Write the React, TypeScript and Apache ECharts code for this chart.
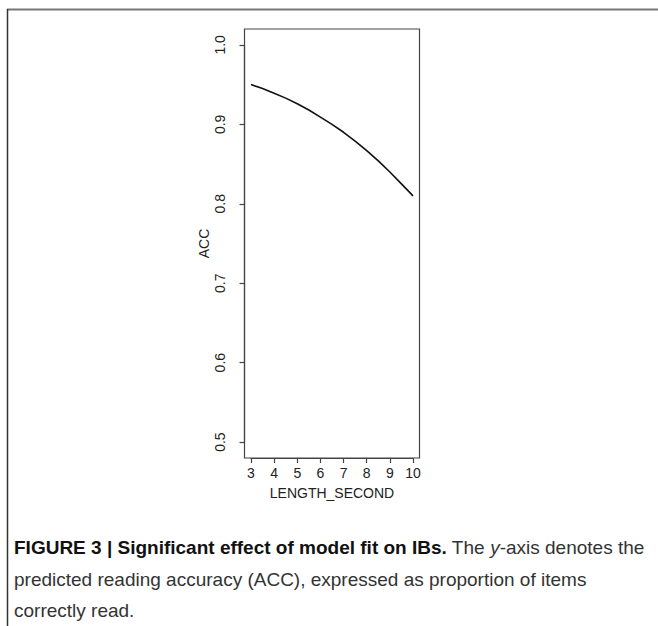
import React, { useEffect, useRef } from "react";
import * as echarts from "echarts";

const lengthSecond = [3, 3.5, 4, 4.5, 5, 5.5, 6, 6.5, 7, 7.5, 8, 8.5, 9, 9.5, 10];
const accValues = [0.95, 0.945, 0.939, 0.933, 0.926, 0.918, 0.909, 0.9, 0.89, 0.879, 0.867, 0.854, 0.84, 0.825, 0.81];
const xTickMin = 3;
const xTickMax = 10;
const xTickStep = 1;
const yTickMin = 0.5;
const yTickMax = 1.0;
const yTickStep = 0.1;
const xLabel = "LENGTH_SECOND";
const yLabel = "ACC";
const captionBold = "FIGURE 3 | Significant effect of model fit on IBs.";
const captionLine1Rest = " The ";
const captionItalic = "y";
const captionLine1End = "-axis denotes the";
const captionLine2 = "predicted reading accuracy (ACC), expressed as proportion of items";
const captionLine3 = "correctly read.";

export default function App() {
  const ref = useRef<HTMLDivElement>(null);
  useEffect(() => {
    if (!ref.current) return;
    const chart = echarts.init(ref.current, undefined, { renderer: "svg" });
    const axisFont = "Liberation Sans, Arial, sans-serif";
    const capFont = "'Liberation Sans', Arial, sans-serif";
    const axisColor = "#444";
    // plot box (R's plot region, 4% padding around tick range)
    const boxL = 244.5, boxR = 419.5, boxT = 29, boxB = 458;
    const W = 658, H = 626;
    const pxPerX = (boxR - boxL) / ((xTickMax - xTickMin) * 1.08);
    const pxPerY = (boxB - boxT) / ((yTickMax - yTickMin) * 1.08);
    const padX = (xTickMax - xTickMin) * 0.04 * pxPerX;
    const padY = (yTickMax - yTickMin) * 0.04 * pxPerY;
    chart.setOption({
      animation: false,
      backgroundColor: "#fff",
      grid: [
        {
          left: boxL,
          right: W - boxR,
          top: boxT,
          bottom: H - boxB,
          show: true,
          borderColor: axisColor,
          borderWidth: 1.2,
          containLabel: false,
        },
        {
          left: boxL + padX,
          right: W - boxR + padX,
          top: boxT + padY,
          bottom: H - boxB + padY,
          show: false,
          containLabel: false,
        },
      ],
      xAxis: [
        {
          gridIndex: 1,
          type: "value",
          min: xTickMin,
          max: xTickMax,
          interval: xTickStep,
          offset: padY,
          name: xLabel,
          nameLocation: "middle",
          nameGap: 28,
          nameTextStyle: { color: "#222", fontSize: 14, fontFamily: axisFont },
          axisLine: { show: true, lineStyle: { color: axisColor, width: 1.2 } },
          splitLine: { show: false },
          axisTick: { show: true, length: 5, lineStyle: { color: axisColor, width: 1.2 } },
          axisLabel: {
            color: "#222",
            fontSize: 14,
            fontFamily: axisFont,
            margin: 8,
            formatter: (v: number) => String(v),
          },
        },
      ],
      yAxis: [
        {
          gridIndex: 1,
          type: "value",
          min: yTickMin,
          max: yTickMax,
          interval: yTickStep,
          offset: padX,
          name: yLabel,
          nameLocation: "middle",
          nameGap: 34,
          nameRotate: 90,
          nameTextStyle: { color: "#222", fontSize: 14, fontFamily: axisFont },
          axisLine: { show: true, lineStyle: { color: axisColor, width: 1.2 } },
          splitLine: { show: false },
          axisTick: { show: true, length: 5, lineStyle: { color: axisColor, width: 1.2 } },
          axisLabel: {
            color: "#222",
            fontSize: 14,
            fontFamily: axisFont,
            rotate: 90,
            margin: 18,
            formatter: (v: number) => v.toFixed(1),
          },
        },
      ],
      series: [
        {
          type: "line",
          xAxisIndex: 0,
          yAxisIndex: 0,
          data: lengthSecond.map((x, i) => [x, accValues[i]]),
          showSymbol: false,
          smooth: false,
          clip: false,
          lineStyle: { color: "#111", width: 1.6, join: "round" },
        },
      ],
      graphic: [
        { type: "line", shape: { x1: 7, y1: 9.5, x2: 658, y2: 9.5 }, style: { stroke: "#777", lineWidth: 2 } },
        { type: "line", shape: { x1: 7.5, y1: 9, x2: 7.5, y2: 626 }, style: { stroke: "#333", lineWidth: 1.5 } },
        {
          type: "text",
          left: 14,
          top: 538,
          style: {
            text: `{b|${captionBold}}{n|${captionLine1Rest}}{i|${captionItalic}}{n|${captionLine1End}}`,
            rich: {
              b: { fontFamily: capFont, fontSize: 19, fontWeight: "bold", fill: "#111" },
              n: { fontFamily: capFont, fontSize: 19, fill: "#333" },
              i: { fontFamily: capFont, fontSize: 19, fontStyle: "italic", fill: "#333" },
            },
          },
        },
        {
          type: "text",
          left: 14,
          top: 570,
          style: { text: captionLine2, fontFamily: capFont, fontSize: 19, fill: "#333" },
        },
        {
          type: "text",
          left: 14,
          top: 601,
          style: { text: captionLine3, fontFamily: capFont, fontSize: 19, fill: "#333" },
        },
      ],
    });
    return () => chart.dispose();
  }, []);
  return (
    <div
      ref={ref}
      style={{ position: "fixed", left: 0, top: 0, width: 658, height: 626 }}
    />
  );
}
